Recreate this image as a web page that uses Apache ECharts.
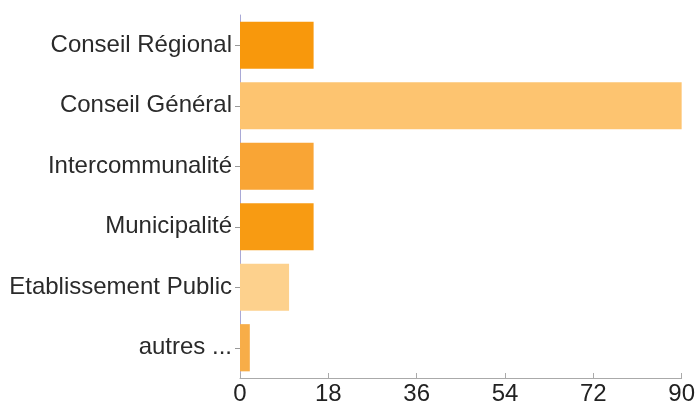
<!DOCTYPE html>
<html>
<head>
<meta charset="utf-8">
<script src="https://cdn.jsdelivr.net/npm/echarts@6/dist/echarts.min.js"></script>
<style>
  html, body { margin: 0; padding: 0; background: #fff; }
  #chart { width: 698px; height: 409px; }
</style>
</head>
<body>
<div id="chart"></div>
<script>
// Organisation types and number of responses per type
const categories = ['Conseil Régional', 'Conseil Général', 'Intercommunalité', 'Municipalité', 'Etablissement Public', 'autres ...'];
const values = [15, 90, 15, 15, 10, 2];
const barColors = ['#f8980c', '#fdc470', '#f9a535', '#f89b12', '#fdd18d', '#f7ad48'];
const xTicks = [0, 18, 36, 54, 72, 90];

const chart = echarts.init(document.getElementById('chart'), null, { renderer: 'canvas' });

chart.setOption({
  animation: false,
  backgroundColor: '#ffffff',
  grid: { left: 240, right: 15, top: 15, bottom: 31, containLabel: false },
  xAxis: {
    type: 'value',
    min: xTicks[0],
    max: xTicks[xTicks.length - 1],
    interval: xTicks[1] - xTicks[0],
    splitLine: { show: false },
    axisLine: { show: true, lineStyle: { color: '#aaaaaa', width: 1 } },
    axisTick: { show: true, inside: true, length: 5, lineStyle: { color: '#aaaaaa' } },
    axisLabel: { color: '#222', fontSize: 24, fontFamily: 'Liberation Sans, Arial, sans-serif', margin: 4 }
  },
  yAxis: {
    type: 'category',
    inverse: true,
    data: categories,
    axisLine: { show: true, lineStyle: { color: '#a9a9d6', width: 1 } },
    axisTick: { show: true, alignWithLabel: true, length: 5, lineStyle: { color: '#999' } },
    axisLabel: { color: '#2a2a2a', fontSize: 24, fontFamily: 'Liberation Sans, Arial, sans-serif', margin: 8 }
  },
  series: [{
    type: 'bar',
    data: values.map((v, i) => ({ value: v, itemStyle: { color: barColors[i] } })),
    barCategoryGap: '22%'
  }]
});
</script>
</body>
</html>
